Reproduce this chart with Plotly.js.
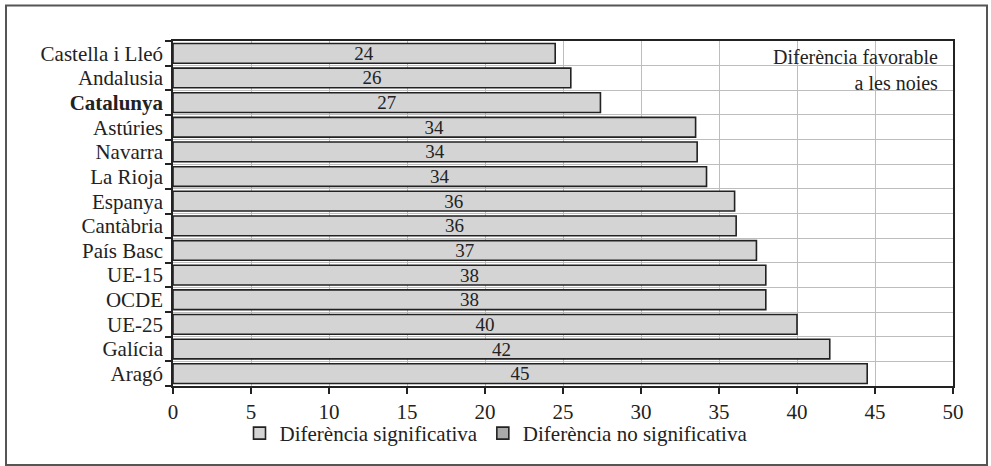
<!DOCTYPE html>
<html>
<head>
<meta charset="utf-8">
<script src="https://cdn.plot.ly/plotly-3.0.1.min.js"></script>
</head>
<body style="margin:0;background:#fff;overflow:hidden">
<div id="chart" style="width:991px;height:466px"></div>
<div style="position:absolute;top:520px;left:20px;font-size:21px">
<div style="font-family:'Liberation Serif'">Aa</div>
<div style="font-family:'Liberation Serif';font-weight:bold">Aa</div>
</div>
<script>
const categories = ['Castella i Lleó','Andalusia','Catalunya','Astúries','Navarra','La Rioja','Espanya','Cantàbria','País Basc','UE-15','OCDE','UE-25','Galícia','Aragó'];
const values = [24.5, 25.5, 27.4, 33.5, 33.6, 34.2, 36.0, 36.1, 37.4, 38.0, 38.0, 40.0, 42.1, 44.5];
const valueLabels = ['24','26','27','34','34','34','36','36','37','38','38','40','42','45'];
const boldCategory = 'Catalunya';
const seriesNames = ['Diferència significativa','Diferència no significativa'];
const xTicks = [0,5,10,15,20,25,30,35,40,45,50];
const noteText = 'Diferència favorable<br>a les noies';

const pos = categories.map((c,i)=>i);
const bounds = categories.map((c,i)=>i-0.5).concat([categories.length-0.5]);
const tickText = categories.map(c => c===boldCategory ? '<b>'+c+'</b>' : c);

const FONT = 'Liberation Serif';

const traces = [
  {
    type:'bar', orientation:'h', name: seriesNames[0],
    x: values, y: pos, text: valueLabels,
    textposition:'inside', insidetextanchor:'middle', constraintext:'none', textangle:0,
    textfont:{family:FONT, size:19, color:'#222'},
    marker:{color:'#d4d4d4', line:{color:'#222', width:1.6}},
    width:0.8, hoverinfo:'none'
  },
  {
    type:'bar', orientation:'h', name: seriesNames[1],
    x:[null], y:[null],
    marker:{color:'#a9a9a9', line:{color:'#222', width:1.6}},
    hoverinfo:'none'
  }
];

const L=173, R=38, T=41, B=76, W=991, H=466;
const pw = W-L-R, ph = H-T-B;
const px = v => (v-L)/pw;
const py = v => (H-B-v)/ph;

const layout = {
  width:W, height:H,
  margin:{l:L, r:R, t:T, b:B, pad:0},
  paper_bgcolor:'#fff', plot_bgcolor:'#fff',
  showlegend:true,
  barmode:'overlay',
  xaxis:{
    range:[0,50], tickmode:'array', tickvals:xTicks,
    showgrid:true, gridcolor:'#bdbdbd', gridwidth:1.2,
    showline:true, linecolor:'#222', linewidth:1.5, mirror:true,
    ticks:'outside', ticklen:6, tickcolor:'#222', tickwidth:1.5,
    tickfont:{family:FONT, size:21, color:'#222'},
    zeroline:false, fixedrange:true
  },
  yaxis:{
    range:[categories.length-0.5, -0.5],
    tickmode:'array', tickvals:pos, ticktext:tickText,
    ticks:'', showgrid:false, zeroline:false,
    showline:true, linecolor:'#222', linewidth:1.5, mirror:true,
    tickfont:{family:FONT, size:21, color:'#222'},
    ticklabelstandoff:4,
    minor:{tickmode:'array', tickvals:bounds, ticks:'outside', ticklen:6, tickcolor:'#222', tickwidth:1.5, showgrid:true, gridcolor:'#bdbdbd', gridwidth:1.2},
    fixedrange:true
  },
  legend:{
    orientation:'h', x:px(496), xanchor:'center', y:py(438), yanchor:'middle',
    font:{family:FONT, size:21, color:'#222'}, itemwidth:30, bgcolor:'rgba(0,0,0,0)'
  },
  annotations:[
    {xref:'paper', yref:'paper', x:px(940), y:py(44), xanchor:'right', yanchor:'top',
     text:noteText, align:'right', showarrow:false,
     font:{family:FONT, size:20, color:'#222'}}
  ],
  shapes:[
    {type:'rect', xref:'paper', yref:'paper', x0:px(6), x1:px(987), y0:py(5), y1:py(470),
     line:{color:'#555', width:2}, fillcolor:'rgba(0,0,0,0)', layer:'below'}
  ]
};

Plotly.newPlot('chart', traces, layout, {displayModeBar:false});
</script>
</body>
</html>
